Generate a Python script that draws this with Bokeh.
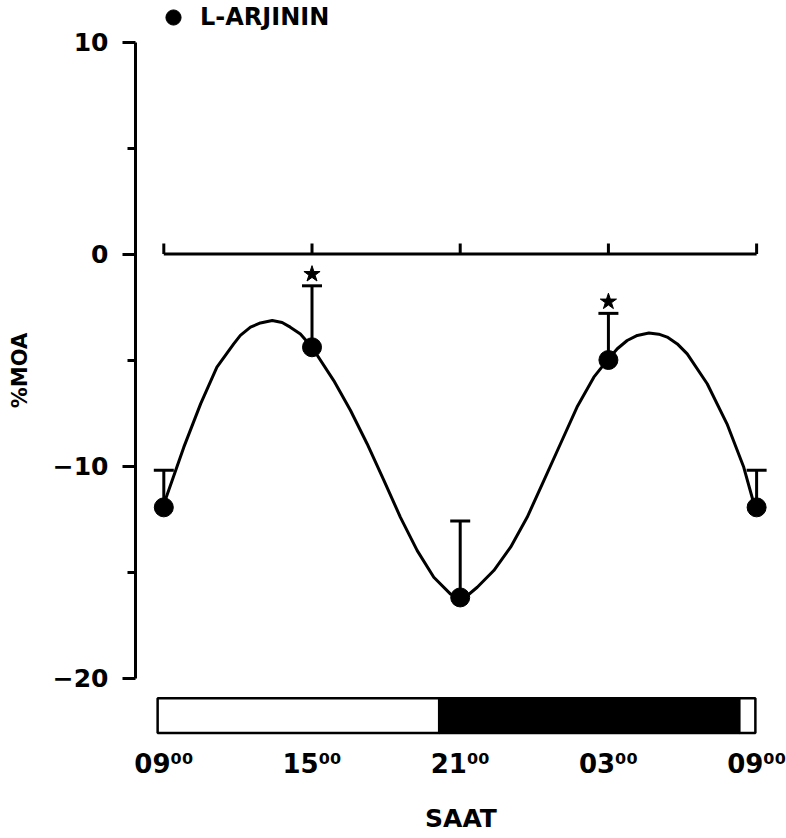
from bokeh.plotting import figure
from bokeh.models import (Range1d, FixedTicker, Whisker, TeeHead, ColumnDataSource,
                          Legend, LegendItem)
from bokeh.embed import file_html
from bokeh.resources import INLINE

# Sampling times, in hours after 09:00, and their clock labels
hours = [0, 6, 12, 18, 24]
clock_labels = ["09⁰⁰", "15⁰⁰", "21⁰⁰", "03⁰⁰", "09⁰⁰"]

# %MOA: group means, standard errors and significance flags
mean_moa = [-11.95, -4.4, -16.2, -5.0, -11.95]
sem_moa = [1.75, 2.9, 3.6, 2.2, 1.75]
significant = [False, True, False, True, False]

# Fitted rhythm curve, sampled along the 24 h span
curve_hours = [0.0, 0.81, 1.49, 2.15, 2.83, 3.1, 3.51, 3.91, 4.39, 4.79, 5.12, 5.53,
               6.0, 6.88, 7.56, 8.23, 8.91, 9.58, 10.26, 10.93, 11.6, 12.0, 12.34,
               12.69, 13.36, 14.04, 14.71, 15.39, 16.06, 16.73, 17.41, 17.95, 18.36,
               18.76, 19.17, 19.64, 20.04, 20.38, 20.79, 21.19, 22.0, 22.8, 23.48,
               23.89]
curve_moa = [-11.8, -9.11, -7.07, -5.34, -4.24, -3.84, -3.45, -3.25, -3.14, -3.23,
             -3.45, -3.77, -4.40, -5.97, -7.38, -8.95, -10.68, -12.42, -13.99,
             -15.25, -16.03, -16.27, -16.06, -15.72, -14.93, -13.83, -12.42, -10.68,
             -8.95, -7.22, -5.81, -5.02, -4.47, -4.08, -3.84, -3.73, -3.78, -3.92,
             -4.24, -4.71, -6.12, -8.01, -10.06, -11.78]

# Light / dark schedule shown under the plot
phase_start = [-0.25, 11.15, 23.3]
phase_end = [11.15, 23.3, 23.95]
phase_color = ["white", "black", "white"]

# Y axis ticks
y_major = [-20, -10, 0, 10]
y_minor = [-15, -5, 5]

FONT = "DejaVu Sans"

p = figure(width=786, height=838,
           x_range=Range1d(-1.146, 25.21), y_range=Range1d(-22.948, 11.958),
           output_backend="svg", toolbar_location=None,
           min_border_left=135, min_border_right=0,
           min_border_top=0, min_border_bottom=98)
p.grid.visible = False
p.outline_line_color = None
p.background_fill_color = "white"
p.border_fill_color = "white"

# ---- left axis (%MOA) ----
ya = p.yaxis[0]
ya.bounds = (y_major[0], y_major[-1])
ya.ticker = FixedTicker(ticks=y_major, minor_ticks=y_minor)
ya.major_label_overrides = {v: (f"−{abs(v)}" if v < 0 else str(v)) for v in y_major}
ya.axis_line_width = 3
ya.axis_line_color = "black"
ya.major_tick_line_width = 3
ya.major_tick_out = 13
ya.major_tick_in = 0
ya.minor_tick_line_width = 3
ya.minor_tick_out = 8
ya.minor_tick_in = 0
ya.major_label_standoff = 14
ya.major_label_text_font = FONT
ya.major_label_text_font_style = "bold"
ya.major_label_text_font_size = "25px"
ya.major_label_text_color = "black"
ya.axis_label = "%MOA"
ya.axis_label_text_font = FONT
ya.axis_label_text_font_style = "bold"
ya.axis_label_text_font_size = "21px"
ya.axis_label_text_color = "black"
ya.axis_label_standoff = 18

# ---- bottom axis: clock labels only ----
xa = p.xaxis[0]
xa.ticker = FixedTicker(ticks=hours, minor_ticks=[])
xa.major_label_overrides = {h: lab for h, lab in zip(hours, clock_labels)}
xa.axis_line_color = None
xa.major_tick_line_color = None
xa.minor_tick_line_color = None
xa.major_tick_out = 0
xa.major_tick_in = 0
xa.major_label_standoff = 8
xa.major_label_text_font = FONT
xa.major_label_text_font_style = "bold"
xa.major_label_text_font_size = "26px"
xa.major_label_text_color = "black"
xa.axis_label = "SAAT"
xa.axis_label_text_font = FONT
xa.axis_label_text_font_style = "bold"
xa.axis_label_text_font_size = "25px"
xa.axis_label_text_color = "black"
xa.axis_label_standoff = 22

# ---- time axis drawn along the zero line, ticks pointing up ----
p.segment(x0=[hours[0]], y0=[0], x1=[hours[-1]], y1=[0], line_color="black", line_width=3)
p.segment(x0=hours, y0=[0] * len(hours), x1=hours, y1=[0.5] * len(hours),
          line_color="black", line_width=3)

# ---- light / dark bar ----
p.quad(left=phase_start, right=phase_end, top=-20.95, bottom=-22.6,
       fill_color=phase_color, line_color="black", line_width=2.5)

# ---- fitted curve ----
p.line(curve_hours, curve_moa, line_color="black", line_width=3, line_join="round")

# ---- error bars (upper side only) ----
upper = [m + s for m, s in zip(mean_moa, sem_moa)]
src = ColumnDataSource(data=dict(h=hours, mean=mean_moa, upper=upper))
p.add_layout(Whisker(source=src, base="h", lower="mean", upper="upper",
                     dimension="height", line_color="black", line_width=3,
                     upper_head=TeeHead(size=20, line_width=3, line_color="black"),
                     lower_head=None))

# ---- group means ----
pts = p.scatter("h", "mean", source=src, marker="circle", size=19,
                fill_color="black", line_color="black")

# ---- significance stars above the error bars ----
star_h = [h for h, s in zip(hours, significant) if s]
star_y = [u + 0.55 for u, s in zip(upper, significant) if s]
p.scatter(star_h, star_y, marker="star", size=17, fill_color="black", line_color="black")

legend = Legend(items=[LegendItem(label="L-ARJININ", renderers=[pts])],
                location=(19, 704), glyph_width=38, glyph_height=38,
                label_standoff=8, padding=0, margin=0, spacing=0,
                border_line_color=None, background_fill_alpha=0,
                label_text_font=FONT, label_text_font_style="bold",
                label_text_font_size="24px", label_text_color="black")
p.add_layout(legend)

open("out.html", "w").write(file_html(p, INLINE))
